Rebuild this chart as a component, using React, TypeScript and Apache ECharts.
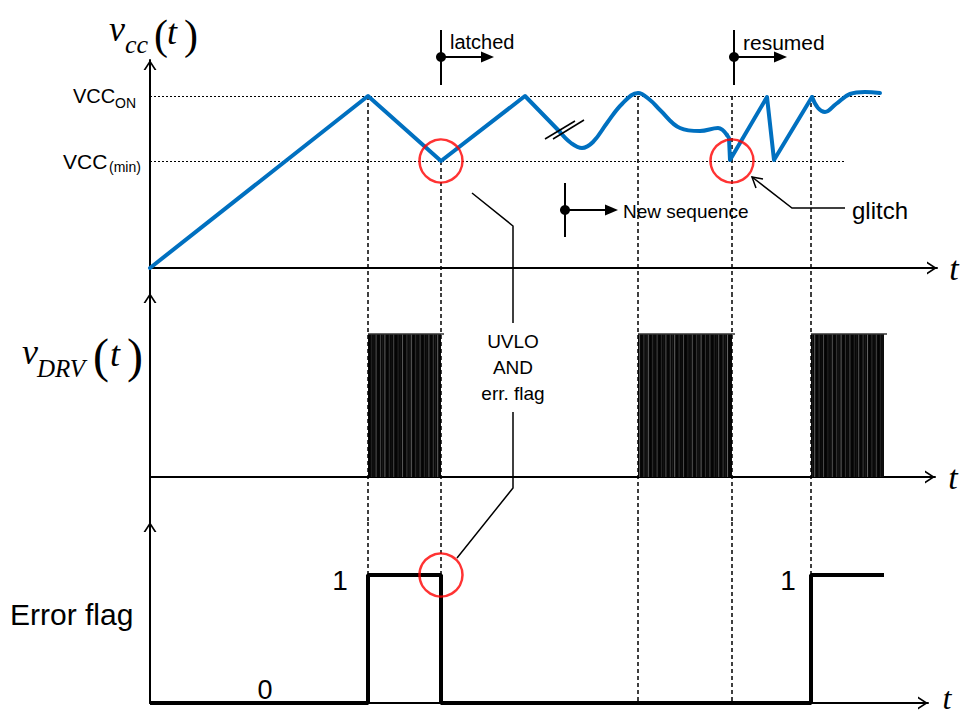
import React, { useEffect, useRef } from "react";
import * as echarts from "echarts";

// ---- levels (vcc units) ----
const VCC_ON = 17.2;
const VCC_MIN = 10.7;

// ---- event times (time units) ----
const tFault = 218;      // error occurs, flag set
const tLatch = 291;      // UVLO reached -> latched
const tNewSeq = 488;     // new start-up sequence
const tResume = 582;     // glitch -> resumed
const tFault2 = 661;     // flag set again
const eventTimes = [tFault, tLatch, tNewSeq, tResume, tFault2];

// ---- vcc(t) waveform, split by shape ----
const vccRamp = [[0, 0], [218, 17.2], [291, 10.7], [375, 17.2], [410, 13.6]];
const vccWave = [[410, 13.6], [421, 12.5], [432, 12.0], [443, 12.6], [457, 14.5], [472, 16.4], [488, 17.5], [500, 16.8], [510, 15.8], [530, 14.0], [550, 13.7], [568, 14.0], [577, 13.3]];
const vccRestart = [[577, 13.3], [579, 13.0], [580, 10.8], [617, 17.1], [624, 10.8], [662, 17.1]];
const vccSettle = [[662, 17.1], [668, 16.0], [675, 15.6], [686, 16.4], [700, 17.4], [715, 17.6], [730, 17.5]];

// ---- driver bursts [start, end, level] ----
const drvBursts = [[218, 291, 1], [488, 582, 1], [661, 734, 1]];

// ---- error flag steps ----
const errorFlag = [[0, 0], [218, 1], [291, 0], [661, 1], [734, 1]];

// ---- highlighted points ----
const uvloCircle = [[tLatch, VCC_MIN]];
const glitchCircle = [[tResume, VCC_MIN]];
const flagCircle = [[tLatch, 1]];

// axis ranges
const Y0 = [-2.5, 20.8];
const Y1 = [-0.315, 1.287];
const Y2 = [0, 1.414];

const stripeShades = ["#000", "#555", "#111", "#777", "#000", "#333", "#222", "#666", "#050505", "#444", "#1a1a1a", "#888"];

const arrowPath = "path://M6.5,0 L13,10 L11,10 L6.5,3 L2,10 L0,10 Z";
const SANS = "Liberation Sans, Arial, sans-serif";
const SERIF = "Liberation Serif, Times New Roman, serif";

function xAx(gridIndex: number, max: number) {
  return {
    type: "value", gridIndex, min: 0, max,
    axisLine: { show: true, onZero: true, symbol: ["none", arrowPath], symbolSize: [13, 10], symbolOffset: [0, -5], lineStyle: { color: "#000", width: 2 } },
    axisTick: { show: false }, axisLabel: { show: false }, splitLine: { show: false },
  };
}
function yAx(gridIndex: number, r: number[]) {
  return {
    type: "value", gridIndex, min: r[0], max: r[1],
    axisLine: { show: true, onZero: true, symbol: ["none", arrowPath], symbolSize: [13, 10], symbolOffset: [0, -5], lineStyle: { color: "#000", width: 2 } },
    axisTick: { show: false }, axisLabel: { show: false }, splitLine: { show: false },
  };
}

const dashed = { type: [4, 3], color: "#000", width: 1.5 };
const dotted = { type: [2, 2], color: "#000", width: 1 };
const vSeg = (t: number, a: number, b: number) => [{ coord: [t, a], lineStyle: dashed }, { coord: [t, b] }];

function markLineSeries(idx: number, data: any[]) {
  return {
    type: "line", xAxisIndex: idx, yAxisIndex: idx, data: [], z: 1, silent: true,
    markLine: { silent: true, symbol: ["none", "none"], label: { show: false }, animation: false, data },
  };
}

const vccStyle = (data: number[][], smooth: number | boolean) => ({
  type: "line", xAxisIndex: 0, yAxisIndex: 0, data, smooth, showSymbol: false, z: 5,
  lineStyle: { color: "#0070C0", width: 4, cap: "round", join: "round" },
});

const circleSeries = (idx: number, data: number[][]) => ({
  type: "scatter", xAxisIndex: idx, yAxisIndex: idx, data, symbol: "circle", symbolSize: 43, z: 10,
  itemStyle: { color: "rgba(0,0,0,0)", borderColor: "#ff0000", borderWidth: 2.5 },
});

function txt(text: string, x: number, y: number, size: number, opts: any = {}) {
  return {
    type: "text", x, y, z: 100,
    style: { text, fill: "#000", fontSize: size, fontFamily: opts.serif ? SERIF : SANS, fontStyle: opts.italic ? "italic" : "normal", align: opts.align || "left", verticalAlign: "middle" },
  };
}
function ln(pts: number[][], w = 1.5) {
  return { type: "polyline", z: 100, shape: { points: pts }, style: { stroke: "#000", lineWidth: w, fill: null } };
}
function marker(x: number, y: number, top: number, bottom: number) {
  return [
    ln([[x, top], [x, bottom]], 2),
    { type: "circle", z: 100, shape: { cx: x, cy: y, r: 5 }, style: { fill: "#000" } },
    ln([[x, y], [x + 42, y]], 2),
    { type: "polygon", z: 100, shape: { points: [[x + 40, y - 5.5], [x + 53, y], [x + 40, y + 5.5]] }, style: { fill: "#000" } },
  ];
}

export default function App() {
  const ref = useRef<HTMLDivElement>(null);
  useEffect(() => {
    document.body.style.margin = "0";
    const chart = echarts.init(ref.current!, null, { renderer: "svg" });
    const option: any = {
      animation: false,
      backgroundColor: "#fff",
      grid: [
        { left: 150, top: 60, width: 787, height: 233 },
        { left: 150, top: 293, width: 785, height: 229 },
        { left: 150, top: 522, width: 778, height: 181 },
      ],
      xAxis: [xAx(0, 787), xAx(1, 785), xAx(2, 778)],
      yAxis: [yAx(0, Y0), yAx(1, Y1), yAx(2, Y2)],
      series: [
        markLineSeries(0, [
          [{ coord: [0, VCC_ON], lineStyle: dotted }, { coord: [730, VCC_ON] }],
          [{ coord: [0, VCC_MIN], lineStyle: dotted }, { coord: [695, VCC_MIN] }],
          ...eventTimes.map((t) => vSeg(t, t === tLatch ? VCC_MIN : VCC_ON, Y0[0])),
        ]),
        markLineSeries(1, eventTimes.map((t) => vSeg(t, Y1[1], Y1[0]))),
        markLineSeries(2, eventTimes.map((t) => vSeg(t, Y2[1], t === tNewSeq || t === tResume ? 0 : 1))),
        vccStyle(vccRamp, false),
        vccStyle(vccWave, 0.4),
        vccStyle(vccRestart, false),
        vccStyle(vccSettle, 0.4),
        {
          type: "custom", xAxisIndex: 1, yAxisIndex: 1, data: drvBursts, z: 4,
          renderItem: (params: any, api: any) => {
            const s = api.coord([api.value(0), api.value(2)]);
            const e = api.coord([api.value(1), 0]);
            const w = e[0] - s[0];
            const children: any[] = [
              { type: "rect", shape: { x: s[0], y: s[1], width: w, height: e[1] - s[1] }, style: { fill: "#080808" } },
            ];
            let k = 0;
            for (let xx = 1.5; xx < w - 0.5; xx += 2.2) {
              children.push({ type: "line", shape: { x1: s[0] + xx, y1: s[1], x2: s[0] + xx, y2: e[1] }, style: { stroke: stripeShades[(k * 5 + params.dataIndex * 3) % stripeShades.length], lineWidth: 0.7 } });
              k++;
            }
            children.push({ type: "line", shape: { x1: s[0], y1: s[1], x2: e[0] + 3, y2: s[1] }, style: { stroke: "#333", lineWidth: 1.5 } });
            return { type: "group", children };
          },
        },
        {
          type: "line", xAxisIndex: 2, yAxisIndex: 2, data: errorFlag, step: "end", showSymbol: false, z: 5,
          lineStyle: { color: "#000", width: 4 },
        },
        circleSeries(0, uvloCircle),
        circleSeries(0, glitchCircle),
        circleSeries(2, flagCircle),
      ],
    };
    chart.setOption(option);

    const px = (t: number) => chart.convertToPixel({ gridIndex: 0 }, [t, 0])[0];
    const xl = px(tLatch);
    const xr = px(tResume);
    const xn = px(415);

    const graphic: any[] = [
      // v_cc(t)
      txt("v", 109, 29, 36, { serif: true, italic: true }),
      txt("cc", 125, 44, 26, { serif: true, italic: true }),
      txt("(", 154, 35, 42, { serif: true }),
      txt("t", 167, 32, 36, { serif: true, italic: true }),
      txt(")", 184, 35, 42, { serif: true }),
      // v_DRV(t)
      txt("v", 22, 352, 36, { serif: true, italic: true }),
      txt("DRV", 37, 368, 25, { serif: true, italic: true }),
      txt("(", 93, 355, 48, { serif: true }),
      txt("t", 110, 354, 36, { serif: true, italic: true }),
      txt(")", 127, 355, 48, { serif: true }),
      // Error flag
      txt("Error flag", 10, 614, 30),
      // level labels
      txt("VCC", 73, 96, 20),
      txt("ON", 115, 103, 14),
      txt("VCC", 63, 161, 21),
      txt("(min)", 109, 167, 14),
      // axis t labels
      txt("t", 954, 268, 34, { serif: true, italic: true, align: "center" }),
      txt("t", 953, 477, 34, { serif: true, italic: true, align: "center" }),
      txt("t", 947, 698, 32, { serif: true, italic: true, align: "center" }),
      // flag values
      txt("1", 340, 580, 28, { align: "center" }),
      txt("1", 788, 580, 28, { align: "center" }),
      txt("0", 265, 690, 27, { align: "center" }),
      // markers
      ...marker(xl, 57, 30, 85),
      txt("latched", xl + 9, 42, 20),
      ...marker(xr + 2, 57, 30, 85),
      txt("resumed", xr + 11, 42, 21),
      ...marker(xn, 210, 183, 237),
      txt("New sequence", xn + 58, 211, 19),
      // UVLO callout
      ln([[472, 193], [513, 226], [513, 323]]),
      ln([[513, 412], [513, 488], [457, 558]]),
      txt("UVLO", 513, 341, 19, { align: "center" }),
      txt("AND", 513, 367, 19, { align: "center" }),
      txt("err. flag", 513, 393, 19, { align: "center" }),
      // glitch callout
      ln([[845, 208], [792, 208], [752, 177]]),
      ln([[756, 188], [752, 177], [763, 179]]),
      txt("glitch", 852, 210, 24),
      // break marks
      ln([[545, 139], [575, 121]]),
      ln([[553, 139], [584, 120]]),
    ];
    chart.setOption({ graphic });
    return () => chart.dispose();
  }, []);
  return <div ref={ref} style={{ width: 960, height: 717 }} />;
}
